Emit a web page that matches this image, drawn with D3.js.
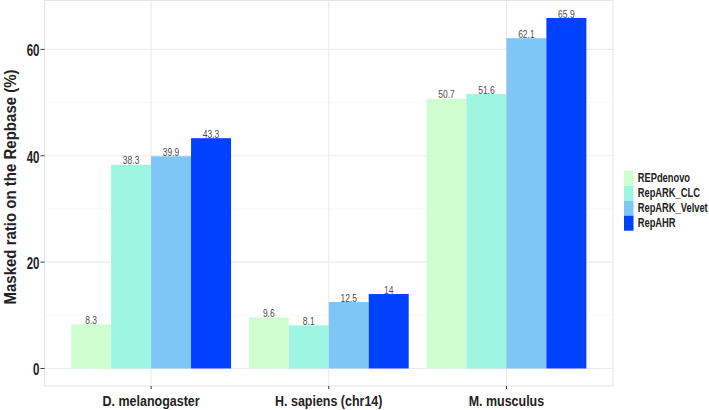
<!DOCTYPE html>
<html><head><meta charset="utf-8">
<script src="https://cdn.jsdelivr.net/npm/d3@7"></script>
<style>body{margin:0;background:#fff}</style>
</head><body>
<svg id="c" width="709" height="410"></svg>
<script>
const categories = ["D. melanogaster", "H. sapiens (chr14)", "M. musculus"];
const seriesNames = ["REPdenovo", "RepARK_CLC", "RepARK_Velvet", "RepAHR"];
const REPdenovo = [8.3, 9.6, 50.7];
const RepARK_CLC = [38.3, 8.1, 51.6];
const RepARK_Velvet = [39.9, 12.5, 62.1];
const RepAHR = [43.3, 14, 65.9];
const yTicks = [0, 20, 40, 60];
const yMinor = [10, 30, 50];
const colors = ["#cfffd0", "#9ef5e2", "#7dc6f6", "#0040ff"];

const seriesVals = [REPdenovo, RepARK_CLC, RepARK_Velvet, RepAHR];
const data = [];
categories.forEach((c, i) => seriesNames.forEach((s, j) => data.push({cat: c, ser: s, v: seriesVals[j][i]})));

const svg = d3.select("#c");
const FONT = "'Liberation Sans',Arial,sans-serif";
const L = 44.5, R = 613, T = 0.5, B = 386;
const y = d3.scaleLinear().domain([-3.295, 69.195]).range([B, T]);
const x = d3.scalePoint().domain(categories).range([L, R]).padding(0.6);
const step = x.step();
const xs = d3.scaleBand().domain(seriesNames).range([-step * 0.45, step * 0.45]);

function txt(g, px, py, s, o) {
  const gg = g.append("g").attr("transform", `translate(${px},${py})${o.rot ? " rotate(-90)" : ""} scale(${o.sx},1)`);
  return gg.append("text").attr("x", 0).attr("y", 0)
    .attr("text-anchor", o.anchor || "start")
    .attr("font-family", FONT).attr("font-weight", o.bold ? "bold" : "normal")
    .attr("font-size", o.size).attr("fill", o.fill || "#222").text(s);
}

const grid = svg.append("g");
yMinor.forEach(t => grid.append("line").attr("x1", L).attr("x2", R).attr("y1", y(t)).attr("y2", y(t)).attr("stroke", "#f2f2f2").attr("stroke-width", 0.6));
yTicks.forEach(t => grid.append("line").attr("x1", L).attr("x2", R).attr("y1", y(t)).attr("y2", y(t)).attr("stroke", "#ebebeb").attr("stroke-width", 1.1));
categories.forEach(c => grid.append("line").attr("x1", x(c)).attr("x2", x(c)).attr("y1", T).attr("y2", B).attr("stroke", "#ebebeb").attr("stroke-width", 1.1));

svg.append("g").selectAll("rect").data(data).join("rect")
  .attr("x", d => x(d.cat) + xs(d.ser))
  .attr("width", xs.bandwidth())
  .attr("y", d => y(d.v))
  .attr("height", d => y(0) - y(d.v))
  .attr("fill", d => colors[seriesNames.indexOf(d.ser)]);

const lab = svg.append("g");
data.forEach(d => txt(lab, x(d.cat) + xs(d.ser) + xs.bandwidth() / 2, y(d.v) - 0.5, String(d.v),
  {anchor: "middle", size: 10, sx: 0.85, fill: "#4d4d4d"}));

svg.append("rect").attr("x", L).attr("y", T).attr("width", R - L).attr("height", B - T)
  .attr("fill", "none").attr("stroke", "#e5e5e5").attr("stroke-width", 1);

// y axis
const ya = svg.append("g");
yTicks.forEach(t => {
  ya.append("line").attr("x1", L - 4).attr("x2", L).attr("y1", y(t)).attr("y2", y(t)).attr("stroke", "#333").attr("stroke-width", 1);
  txt(ya, L - 5, y(t) + 6.8, String(t), {anchor: "end", bold: true, size: 16, sx: 0.72});
});
// x axis
const xa = svg.append("g");
categories.forEach(c => {
  xa.append("line").attr("x1", x(c)).attr("x2", x(c)).attr("y1", B).attr("y2", B + 3).attr("stroke", "#333");
  txt(xa, x(c), 405.7, c, {anchor: "middle", bold: true, size: 14.5, sx: 0.86});
});
txt(svg, 16, 187, "Masked ratio on the Repbase (%)", {anchor: "middle", bold: true, size: 16.5, sx: 0.91, rot: true});

// legend
const lg = svg.append("g");
seriesNames.forEach((s, i) => {
  const top = 170.7 + i * 15;
  lg.append("rect").attr("x", 624).attr("y", top).attr("width", 9.5).attr("height", 15).attr("fill", colors[i]);
  txt(lg, 637.7, top + 11.6, s, {bold: true, size: 12.3, sx: 0.76});
});
</script>
</body></html>
